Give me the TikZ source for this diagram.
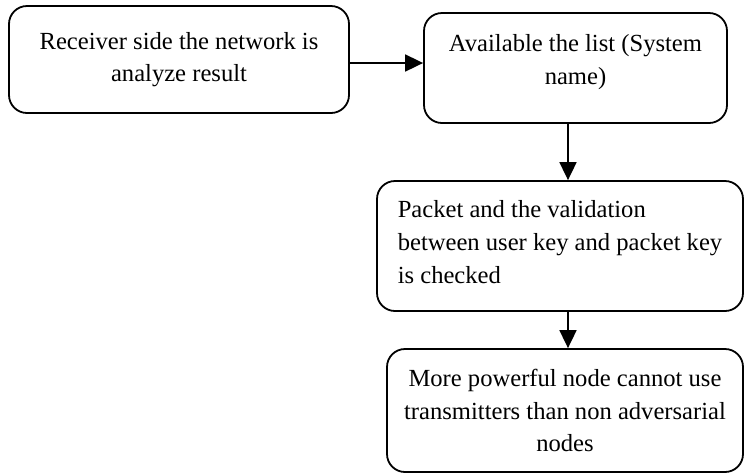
\documentclass[tikz,border=0pt]{standalone}
\usepackage{fontspec}
\setmainfont{Liberation Serif}
\usetikzlibrary{arrows.meta}

\begin{document}
\begin{tikzpicture}[x=0.5pt,y=-0.5pt,
	box/.style={draw,line width=0.9pt,rounded corners=9pt,inner sep=0pt,font=\fontsize{12.3}{16.3}\selectfont}]
\useasboundingbox (0,0) rectangle (744,473);
\node[box,align=center,minimum width=170pt,minimum height=53.5pt] (receiver) at (179,59.5) {Receiver side the network is\\analyze result};
\node[box,align=center,minimum width=151.5pt,minimum height=55pt,text depth=8.5pt] (list) at (575.5,68) {Available the list (System\\name)};
\node[box,align=left,minimum width=183pt,minimum height=65pt,text depth=4pt] (packet) at (560,246) {Packet and the validation\\between user key and packet key\\is checked};
\node[box,align=center,minimum width=178pt,minimum height=61.5pt] (powerful) at (565,410.5) {More powerful node cannot use\\transmitters than non adversarial\\nodes};
\draw [-{Triangle[length=9pt,width=8.5pt]},line width=0.9pt]([yshift=-1.75pt]receiver.east)--([yshift=-1.75pt]receiver.east -| list.west);
\draw [-{Triangle[length=9pt,width=8.5pt]},line width=0.9pt]([xshift=-3.75pt]list.south)--([xshift=-3.75pt]list.south |- packet.north);
\draw [-{Triangle[length=9pt,width=8.5pt]},line width=0.9pt]([xshift=-3.75pt]list.south |- packet.south)--([xshift=-3.75pt]list.south |- powerful.north);
\end{tikzpicture}
\end{document}
